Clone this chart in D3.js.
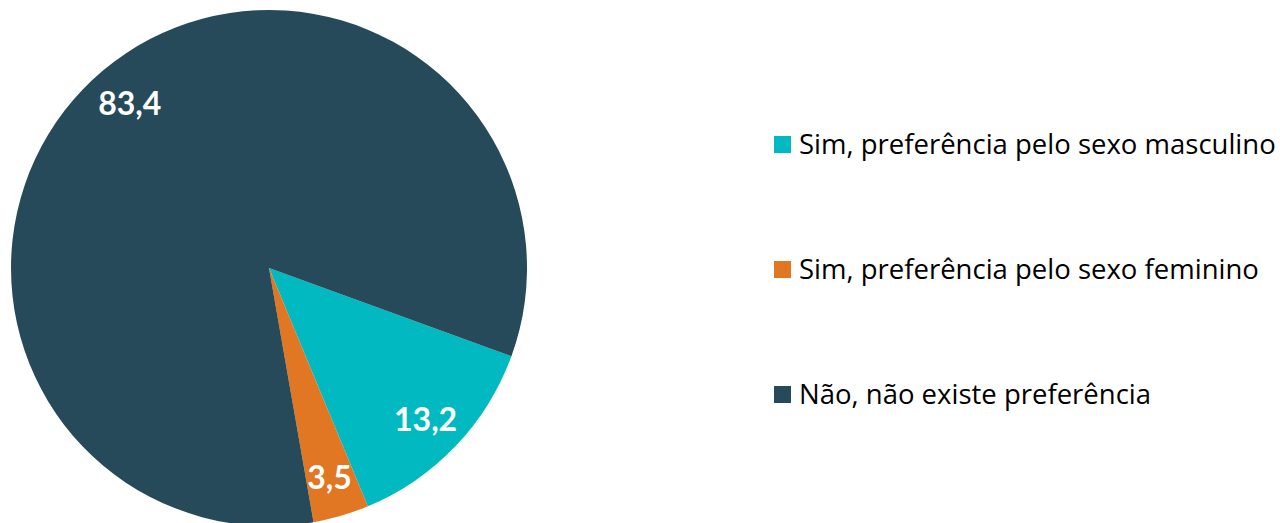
<!DOCTYPE html>
<html lang="pt">
  <head>
    <meta charset="UTF-8" />
    <title>Preferência pelo sexo</title>
    <style>
      body { margin: 0; background: #fff; }
      svg { display: block; }
    </style>
  </head>
  <body>
    <svg width="1280" height="523"></svg>
    <script src="https://d3js.org/d3.v7.min.js"></script>
    <script>
      // dados
      const categorias = [
        'Sim, preferência pelo sexo masculino',
        'Sim, preferência pelo sexo feminino',
        'Não, não existe preferência'
      ];
      const valores = [13.2, 3.5, 83.4];
      const rotulos = ['13,2', '3,5', '83,4'];
      const cores = ['#00b9c1', '#e17623', '#264a5a'];

      const svg = d3.select('svg');
      const cx = 269, cy = 268, r = 258;

      const color = d3.scaleOrdinal().domain(categorias).range(cores);

      const pie = d3
        .pie()
        .sort(null)
        .value((d) => d.v)
        .startAngle((110 * Math.PI) / 180)
        .endAngle((110 * Math.PI) / 180 + 2 * Math.PI);

      const dados = categorias.map((c, i) => ({ c: c, v: valores[i], t: rotulos[i] }));
      const arcs = pie(dados);

      const arc = d3.arc().innerRadius(0).outerRadius(r);
      const labelArc = d3.arc().innerRadius(r * 0.84).outerRadius(r * 0.84);

      const g = svg.append('g').attr('transform', `translate(${cx},${cy})`);

      g.selectAll('path')
        .data(arcs)
        .enter()
        .append('path')
        .attr('d', arc)
        .attr('fill', (d) => color(d.data.c));

      g.selectAll('text')
        .data(arcs)
        .enter()
        .append('text')
        .attr('transform', (d) => `translate(${labelArc.centroid(d)})`)
        .attr('text-anchor', 'middle')
        .attr('dy', '0.4em')
        .attr('fill', '#fff')
        .attr('font-family', 'Lato, "Open Sans", sans-serif')
        .attr('font-weight', 'bold')
        .attr('font-size', 32)
        .text((d) => d.data.t);

      // legenda
      const leg = svg
        .append('g')
        .selectAll('g')
        .data(categorias)
        .enter()
        .append('g')
        .attr('transform', (d, i) => `translate(774,${144.5 + i * 125})`);

      leg.append('rect')
        .attr('x', 0)
        .attr('y', -8.5)
        .attr('width', 17)
        .attr('height', 17)
        .attr('fill', (d) => color(d));

      leg.append('text')
        .attr('x', 25)
        .attr('dy', '0.36em')
        .attr('fill', '#000')
        .attr('font-family', '"Open Sans", sans-serif')
        .attr('font-size', 27.5)
        .text((d) => d);
    </script>
  </body>
</html>
